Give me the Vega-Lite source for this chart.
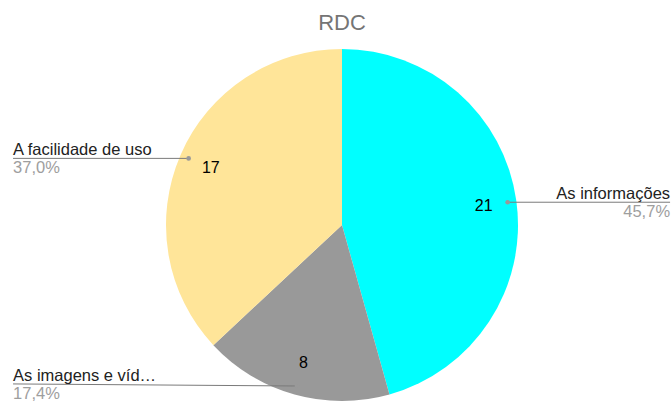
{
  "$schema": "https://vega.github.io/schema/vega-lite/v6.json",
  "width": 660,
  "height": 352,
  "autosize": "none",
  "padding": {"left": 12, "top": 49, "right": 0, "bottom": 0},
  "background": "white",
  "title": {"text": "RDC", "font": "Liberation Sans", "fontSize": 22, "fontWeight": "normal", "color": "#757575", "anchor": "middle", "offset": 14},
  "config": {"view": {"stroke": null}, "font": "Liberation Sans"},
  "data": {"values": [
    {"label": "As informações", "value": 21, "order": 1},
    {"label": "As imagens e víd…", "value": 8, "order": 2},
    {"label": "A facilidade de uso", "value": 17, "order": 3}
  ]},
  "layer": [
    {
      "mark": {"type": "arc"},
      "encoding": {
        "theta": {"field": "value", "type": "quantitative", "stack": true},
        "order": {"field": "order", "type": "quantitative"},
        "color": {"field": "label", "type": "nominal", "legend": null,
          "scale": {"domain": ["As informações", "As imagens e víd…", "A facilidade de uso"], "range": ["#00FFFF", "#999999", "#FFE599"]}}
      }
    },
    {
      "mark": {"type": "text", "radius": 143, "fontSize": 16, "color": "#000000", "font": "Liberation Sans"},
      "encoding": {
        "theta": {"field": "value", "type": "quantitative", "stack": true},
        "order": {"field": "order", "type": "quantitative"},
        "text": {"field": "value", "type": "quantitative"}
      }
    },
    {
      "transform": [
        {"joinaggregate": [{"op": "sum", "field": "value", "as": "total"}]},
        {"window": [{"op": "sum", "field": "value", "as": "cum"}], "sort": [{"field": "order"}], "frame": [null, 0]},
        {"calculate": "(datum.cum - datum.value / 2) / datum.total * 2 * PI", "as": "mid"},
        {"calculate": "0.95 * sin(datum.mid)", "as": "dx"},
        {"calculate": "0.95 * cos(datum.mid)", "as": "dy"},
        {"calculate": "max(datum.dy, -0.903)", "as": "ly"},
        {"calculate": "datum.dx < 0 ? -1.869 : 1.864", "as": "lx"},
        {"calculate": "replace(format(datum.value / datum.total * 100, '.1f'), '.', ',') + '%'", "as": "pct"}
      ],
      "encoding": {
        "x": {"field": "dx", "type": "quantitative", "scale": {"domain": [-1.875, 1.875], "zero": false, "nice": false}, "axis": null},
        "y": {"field": "dy", "type": "quantitative", "scale": {"domain": [-1, 1], "zero": false, "nice": false}, "axis": null}
      },
      "layer": [
        {
          "mark": {"type": "rule", "color": "#7a7a7a", "strokeWidth": 1},
          "encoding": {"x2": {"field": "lx"}, "y2": {"field": "ly"}}
        },
        {
          "mark": {"type": "point", "filled": true, "size": 22, "color": "#999999", "opacity": 1}
        },
        {
          "transform": [{"filter": "datum.dx < 0"}],
          "mark": {"type": "text", "align": "left", "baseline": "alphabetic", "dy": -3, "fontSize": 16.5, "color": "#222222", "font": "Liberation Sans"},
          "encoding": {"x": {"field": "lx", "type": "quantitative"}, "y": {"field": "ly", "type": "quantitative"}, "text": {"field": "label"}}
        },
        {
          "transform": [{"filter": "datum.dx >= 0"}],
          "mark": {"type": "text", "align": "right", "baseline": "alphabetic", "dy": -3, "fontSize": 16.5, "color": "#222222", "font": "Liberation Sans"},
          "encoding": {"x": {"field": "lx", "type": "quantitative"}, "y": {"field": "ly", "type": "quantitative"}, "text": {"field": "label"}}
        },
        {
          "transform": [{"filter": "datum.dx < 0"}],
          "mark": {"type": "text", "align": "left", "baseline": "alphabetic", "dy": 15, "fontSize": 16.5, "color": "#9E9E9E", "font": "Liberation Sans"},
          "encoding": {"x": {"field": "lx", "type": "quantitative"}, "y": {"field": "ly", "type": "quantitative"}, "text": {"field": "pct"}}
        },
        {
          "transform": [{"filter": "datum.dx >= 0"}],
          "mark": {"type": "text", "align": "right", "baseline": "alphabetic", "dy": 15, "fontSize": 16.5, "color": "#9E9E9E", "font": "Liberation Sans"},
          "encoding": {"x": {"field": "lx", "type": "quantitative"}, "y": {"field": "ly", "type": "quantitative"}, "text": {"field": "pct"}}
        }
      ]
    }
  ]
}
